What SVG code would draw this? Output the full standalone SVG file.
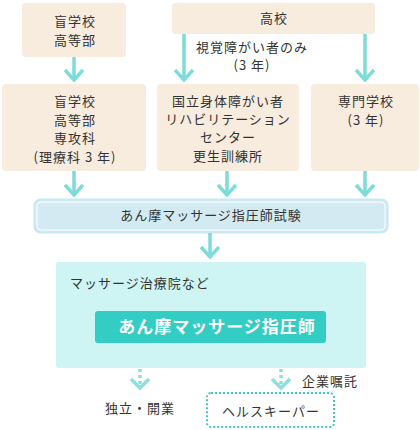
<svg xmlns="http://www.w3.org/2000/svg" width="420" height="430" viewBox="0 0 420 430">
<defs>
<style>
text{font-family:"Noto Sans CJK JP","Noto Sans",sans-serif;font-size:13px;fill:#333;letter-spacing:1px}
.c{text-anchor:middle}
.box{fill:#f7ecdd}
.arr{fill:none;stroke:#7edcd8;stroke-width:3.5}
.darr{fill:none;stroke:#8ee0dc;stroke-width:3.5;stroke-dasharray:3 3}
</style>
<path id="head" d="M-9,-10 L0,0 L9,-10" class="arr"/>
</defs>
<rect width="420" height="430" fill="#fff"/>
<g id="n-mou1">
<rect class="box" x="22" y="3" width="104" height="54" rx="4"/>
<text class="c" x="75" y="26">盲学校</text>
<text class="c" x="75" y="45">高等部</text>
</g>
<g id="n-koukou">
<rect class="box" x="172" y="3" width="203" height="31" rx="4"/>
<text class="c" x="274" y="23">高校</text>
</g>
<g id="n-mou2">
<rect class="box" x="2" y="84" width="144" height="87" rx="4"/>
<text class="c" x="75" y="106">盲学校</text>
<text class="c" x="75" y="125">高等部</text>
<text class="c" x="75" y="143">専攻科</text>
<text class="c" x="75" y="162">(理療科 3 年)</text>
</g>
<g id="n-kokuritsu">
<rect class="box" x="157" y="84" width="142" height="87" rx="4"/>
<text class="c" x="228" y="106">国立身体障がい者</text>
<text class="c" x="228" y="124">リハビリテーション</text>
<text class="c" x="228" y="142">センター</text>
<text class="c" x="228" y="161">更生訓練所</text>
</g>
<g id="n-senmon">
<rect class="box" x="311" y="84" width="108" height="87" rx="4"/>
<text class="c" x="366" y="106">専門学校</text>
<text class="c" x="366" y="125">(3 年)</text>
</g>
<g id="n-shiken">
<rect x="34.5" y="199.5" width="353" height="33" rx="6" fill="#d3eaf2" stroke="#c6eaf0" stroke-width="2"/>
<rect x="37" y="202" width="348" height="28" rx="4" fill="none" stroke="#fff" stroke-width="1"/>
<text class="c" x="211" y="220">あん摩マッサージ指圧師試験</text>
</g>
<g id="n-chiryouin">
<rect x="56" y="262" width="310" height="106" rx="3" fill="#cef5f3"/>
<text x="70" y="288">マッサージ治療院など</text>
<rect x="95" y="311" width="231" height="32" rx="3" fill="#33cdc4"/>
<text class="c" x="217" y="333" style="font-size:17px;font-weight:bold;fill:#fff;letter-spacing:1px">あん摩マッサージ指圧師</text>
</g>
<g id="n-dokuritsu">
<text x="105" y="413">独立・開業</text>
</g>
<g id="n-health">
<rect x="207" y="393" width="127" height="34" rx="4" fill="none" stroke="#3cc8c4" stroke-width="2" stroke-dasharray="2 2"/>
<text class="c" x="271" y="416">ヘルスキーパー</text>
</g>
<g id="connectors">
<line class="arr" x1="74" y1="57" x2="74" y2="80"/>
<use href="#head" x="74" y="80"/>
<line class="arr" x1="184" y1="34" x2="184" y2="80"/>
<use href="#head" x="184" y="80"/>
<line class="arr" x1="365" y1="34" x2="365" y2="80"/>
<use href="#head" x="365" y="80"/>
<line class="arr" x1="74" y1="171" x2="74" y2="195"/>
<use href="#head" x="74" y="195"/>
<line class="arr" x1="227" y1="171" x2="227" y2="195"/>
<use href="#head" x="227" y="195"/>
<line class="arr" x1="365" y1="171" x2="365" y2="195"/>
<use href="#head" x="365" y="195"/>
<line class="arr" x1="210" y1="233" x2="210" y2="257"/>
<use href="#head" x="210" y="257"/>
<line class="darr" x1="140" y1="369" x2="140" y2="388"/>
<path d="M131,379 L140,388 L149,379" fill="none" stroke="#8ee0dc" stroke-width="3.5"/>
<line class="darr" x1="281" y1="369" x2="281" y2="388"/>
<path d="M272,379 L281,388 L290,379" fill="none" stroke="#8ee0dc" stroke-width="3.5"/>
<text x="196" y="52">視覚障がい者のみ</text>
<text class="c" x="252" y="70">(3 年)</text>
<text x="302" y="386">企業嘱託</text>
</g>
</svg>
